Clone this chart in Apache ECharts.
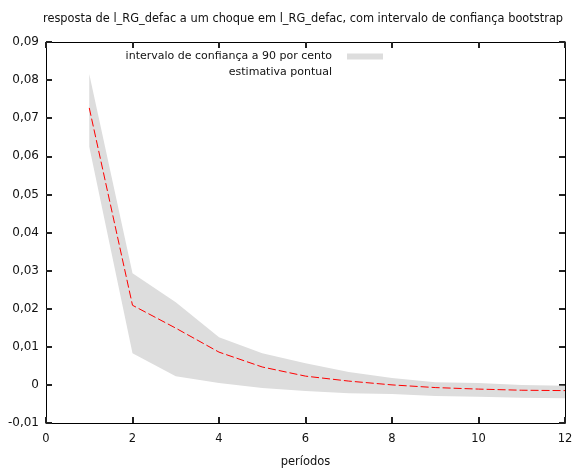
<!DOCTYPE html>
<html>
<head>
<meta charset="utf-8">
<script src="https://cdn.jsdelivr.net/npm/echarts@6/dist/echarts.min.js"></script>
<style>html,body{margin:0;padding:0;background:#fff}#c{width:582px;height:469px}</style>
</head>
<body>
<div id="c"></div>
<script>
var periods = [1, 2, 3, 4, 5, 6, 7, 8, 9, 10, 11, 12];
var estimate = [0.0727, 0.0209, 0.0149, 0.0086, 0.0047, 0.0023, 0.0010, 0.0000, -0.0007, -0.0011, -0.0014, -0.0015];
var upper = [0.0816, 0.0293, 0.0217, 0.0125, 0.0083, 0.0057, 0.0034, 0.0018, 0.0007, 0.0005, 0.0000, -0.0002];
var lower = [0.0625, 0.0083, 0.0023, 0.0005, -0.0008, -0.0016, -0.0022, -0.0024, -0.0029, -0.0031, -0.0034, -0.0035];
var titleText = 'resposta de l_RG_defac a um choque em l_RG_defac, com intervalo de confiança bootstrap';
var bandName = 'intervalo de confiança a 90 por cento';
var lineName = 'estimativa pontual';
var xName = 'períodos';

var bandData = periods.map(function (p, i) { return [p, lower[i], upper[i]]; });
var estPts = periods.map(function (p, i) { return [p, estimate[i]]; });

function fmt(v) {
  var s = (Math.round(v * 100) / 100).toString();
  return s.replace('.', ',');
}
var font = 'DejaVu Sans';
function axisLine() { return { show: true, onZero: false, lineStyle: { color: '#000', width: 1 } }; }
function axisTick(len) { return { show: true, inside: true, interval: 0, length: len, lineStyle: { color: '#222222', width: 2 } }; }
var chart = echarts.init(document.getElementById('c'), null, { renderer: 'canvas' });
chart.setOption({
  animation: false,
  backgroundColor: '#fff',
  title: {
    text: titleText, left: 38, top: 9,
    textStyle: { fontFamily: font, fontSize: 11.4, fontWeight: 'normal', color: '#111' }
  },
  legend: {
    orient: 'vertical', align: 'right', right: 199, top: 51, padding: 0,
    itemWidth: 36, itemHeight: 6, itemGap: 5,
    textStyle: { fontFamily: font, fontSize: 11, color: '#111', padding: [0, 10, 0, 0] },
    data: [
      { name: bandName, icon: 'rect', itemStyle: { color: '#dddddd', opacity: 1 } },
      { name: lineName, icon: 'rect', itemStyle: { opacity: 0 } }
    ]
  },
  grid: { left: 46, right: 17, top: 42, bottom: 46, containLabel: false, outerBoundsMode: 'none' },
  xAxis: [
    {
      type: 'value', position: 'bottom', min: 0, max: 12, interval: 2,
      axisLine: axisLine(), axisTick: axisTick(6), splitLine: { show: false },
      name: xName, nameLocation: 'middle', nameGap: 33,
      nameTextStyle: { fontFamily: font, fontSize: 11.5, color: '#111' },
      axisLabel: { fontFamily: font, fontSize: 11.5, color: '#111', margin: 10 }
    },
    {
      type: 'value', position: 'top', min: 0, max: 12, interval: 2,
      axisLine: axisLine(), axisTick: axisTick(6), splitLine: { show: false },
      axisLabel: { show: false }
    }
  ],
  yAxis: [
    {
      type: 'value', position: 'left', min: -0.01, max: 0.09, interval: 0.01,
      axisLine: axisLine(), axisTick: axisTick(6), splitLine: { show: false },
      axisLabel: { fontFamily: font, fontSize: 12, color: '#111', margin: 7, formatter: fmt }
    },
    {
      type: 'value', position: 'right', min: -0.01, max: 0.09, interval: 0.01,
      axisLine: axisLine(), axisTick: axisTick(6), splitLine: { show: false },
      axisLabel: { show: false }
    }
  ],
  series: [
    {
      name: bandName, type: 'custom', data: bandData, z: 1, silent: true,
      itemStyle: { color: '#dddddd' },
      encode: { x: 0, y: [1, 2] },
      renderItem: function (params, api) {
        if (params.dataIndex !== 0) return null;
        var top = [], bot = [];
        for (var i = 0; i < bandData.length; i++) {
          top.push(api.coord([bandData[i][0], bandData[i][2]]));
          bot.unshift(api.coord([bandData[i][0], bandData[i][1]]));
        }
        return {
          type: 'polygon',
          shape: { points: top.concat(bot) },
          style: { fill: '#dddddd', stroke: null }
        };
      }
    },
    {
      name: lineName, type: 'line', data: estPts, symbol: 'none', z: 3,
      itemStyle: { color: '#ff0000' },
      lineStyle: { color: '#ff0000', width: 1, type: [8, 3] }
    }
  ]
});
</script>
</body>
</html>
